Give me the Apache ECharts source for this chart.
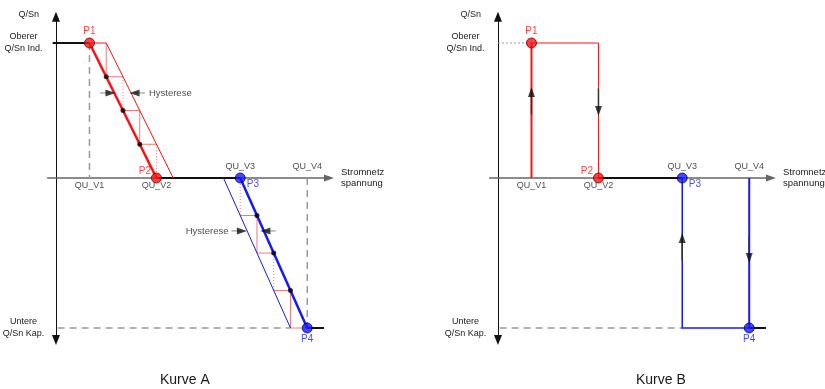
<!DOCTYPE html>
<html>
<head>
<meta charset="utf-8">
<script src="https://cdn.jsdelivr.net/npm/echarts@6/dist/echarts.min.js"></script>
<style>
  html, body { margin: 0; padding: 0; background: #fff; }
  #chart { width: 825px; height: 389px; }
</style>
</head>
<body>
<div id="chart"></div>
<script>
// Spannungsstützpunkte auf der x-Achse und Q/Sn-Grenzen auf der y-Achse
const vNames = ['QU_V1', 'QU_V2', 'QU_V3', 'QU_V4'];
const vValues = [2, 6, 11, 15];
const qUpper = 0.9;   // Oberer Q/Sn Ind.
const qLower = -1.0;  // Untere Q/Sn Kap.
const qLevelNames = ['Oberer\nQ/Sn Ind.', 'Untere\nQ/Sn Kap.'];
const hyst = 1;       // Hysteresebreite
const pointNames = ['P1', 'P2', 'P3', 'P4'];
const panelTitles = ['Kurve A', 'Kurve B'];

// Kurve A: Stufen auf den Rampen (schwarze Punkte)
const stepsInd = [[3, 0.675], [4, 0.45], [5, 0.225]];
const stepsKap = [[12, -0.25], [13, -0.5], [14, -0.75]];
// Hysterese-Pfeilspitzen
const hystArrowsInd = [[3.25, 0.567, 'right'], [4.69, 0.567, 'left']];
const hystArrowsKap = [[11.1, -0.353, 'right'], [12.5, -0.353, 'left']];
// Kurve B: Richtungspfeile auf den Sprüngen
const jumpArrows = [[2, 0.573, 'up'], [6, 0.447, 'down'], [11, -0.4, 'up'], [15, -0.533, 'down']];

const [V1, V2, V3, V4] = vValues;
const font = 'Liberation Sans, Arial, sans-serif';
const red = '#ff1010', blue = '#1818ff', pink = '#f07a7a', gray = '#9a9a9a', txt = '#1a1a1a';
const rotOf = { up: 0, down: 180, right: -90, left: 90 };

function seg(gi, paths, style, z) {
  return {
    type: 'lines', coordinateSystem: 'cartesian2d', xAxisIndex: gi, yAxisIndex: gi,
    polyline: true, silent: true, z: z || 2,
    lineStyle: Object.assign({ opacity: 1, curveness: 0 }, style),
    data: paths.map(p => ({ coords: p }))
  };
}

function scatter(gi, data, extra) {
  return Object.assign({
    type: 'scatter', xAxisIndex: gi, yAxisIndex: gi, silent: true, z: 6,
    data: data
  }, extra);
}

function arrowHeads(gi, arr) {
  return scatter(gi, arr.map(a => ({ value: [a[0], a[1]], symbolRotate: rotOf[a[2]] })), {
    symbol: 'triangle', symbolSize: [7, 10], itemStyle: { color: '#111' }
  });
}

function pointSeries(gi) {
  const pts = [[V1, qUpper], [V2, 0], [V3, 0], [V4, qLower]];
  const lbl = [
    { position: 'top', distance: 1 },
    { position: 'left', distance: 0, offset: [0, -7] },
    { position: 'right', distance: 1, offset: [0, 6] },
    { position: 'bottom', distance: 1 }
  ];
  return scatter(gi, pts.map((p, i) => {
    const c = i < 2 ? red : blue;
    return {
      value: p, name: pointNames[i],
      itemStyle: { color: c, borderColor: i < 2 ? '#600' : '#001050', borderWidth: 1 },
      label: Object.assign({ show: true, formatter: pointNames[i], color: c, fontSize: 10, fontFamily: font }, lbl[i])
    };
  }), { symbol: 'circle', symbolSize: 10, z: 8 });
}

function vLabelSeries(gi) {
  return scatter(gi, vValues.map((v, i) => ({
    value: [v, 0],
    label: { show: true, formatter: vNames[i], position: i < 2 ? 'bottom' : 'top', distance: i < 2 ? 3 : 7,
      fontSize: 9, color: txt, fontFamily: font }
  })), { symbolSize: 0, z: 7 });
}

// ---- Kurve A ----
const stairSolid = [], stairDot = [];
let qPrev = qUpper;
stepsInd.forEach(([x, q], i) => {
  (i % 2 === 0 ? stairSolid : stairDot).push([[x, qPrev], [x, q]]);
  stairSolid.push([[x, q], [x + hyst, q]]);
  qPrev = q;
});
(stepsInd.length % 2 === 0 ? stairSolid : stairDot).push([[V2, qPrev], [V2, 0]]);
qPrev = 0;
stepsKap.forEach(([x, q], i) => {
  (i % 2 === 0 ? stairDot : stairSolid).push([[x - hyst, qPrev], [x - hyst, q]]);
  stairSolid.push([[x - hyst, q], [x, q]]);
  qPrev = q;
});
stairSolid.push([[V4 - hyst, qPrev], [V4 - hyst, qLower], [V4, qLower]]);

const hystTails = [];
[hystArrowsInd, hystArrowsKap].forEach(arr => arr.forEach(([x, q, d]) => {
  hystTails.push(d === 'right' ? [[x - 0.62, q], [x, q]] : [[x, q], [x + 0.62, q]]);
}));

const seriesA = [
  seg(0, [[[V1, qUpper], [V1, 0]], [[V4, 0], [V4, qLower]], [[0.1, qLower], [V4 - hyst, qLower]]],
    { color: gray, width: 1.5, type: [7, 5] }, 1),
  seg(0, stairSolid, { color: pink, width: 1 }),
  seg(0, stairDot, { color: pink, width: 1, type: [1, 2] }),
  seg(0, [[[-0.2, qUpper], [V1, qUpper]], [[V2, 0], [V3, 0]], [[V4, qLower], [16, qLower]]],
    { color: '#111', width: 2 }, 3),
  seg(0, [[[V1, qUpper], [V1 + hyst, qUpper], [V2 + hyst, 0]]], { color: red, width: 1 }, 3),
  seg(0, [[[V1, qUpper], [V2, 0]]], { color: red, width: 2.5 }, 4),
  seg(0, [[[V3 - hyst, 0], [V4 - hyst, qLower]]], { color: blue, width: 1 }, 3),
  seg(0, [[[V3, 0], [V4, qLower]]], { color: blue, width: 2.5 }, 4),
  seg(0, hystTails, { color: '#888', width: 1 }),
  scatter(0, stepsInd.concat(stepsKap), { symbolSize: 5, itemStyle: { color: '#000' } }),
  arrowHeads(0, hystArrowsInd.concat(hystArrowsKap)),
  scatter(0, [
    { value: [hystArrowsInd[1][0] + 0.62, hystArrowsInd[1][1]],
      label: { show: true, formatter: 'Hysterese', position: 'right', distance: 4 } },
    { value: [hystArrowsKap[0][0] - 0.62, hystArrowsKap[0][1]],
      label: { show: true, formatter: 'Hysterese', position: 'left', distance: 3 } }
  ], { symbolSize: 0, label: { fontSize: 9.5, color: txt, fontFamily: font } }),
  pointSeries(0),
  vLabelSeries(0)
];

// ---- Kurve B ----
const jumpTails = jumpArrows.map(([x, q, d]) => d === 'up' ? [[x, q - 0.15], [x, q]] : [[x, q + 0.15], [x, q]]);
const seriesB = [
  seg(1, [[[0, qUpper], [V1, qUpper]]], { color: gray, width: 1, type: [2, 2] }, 1),
  seg(1, [[[0.1, qLower], [V3, qLower]]], { color: gray, width: 1.5, type: [7, 5] }, 1),
  seg(1, [[[V1, 0], [V1, qUpper]]], { color: red, width: 2 }, 3),
  seg(1, [[[V1, qUpper], [V2, qUpper], [V2, 0]]], { color: red, width: 1 }, 3),
  seg(1, [[[V2, 0], [V3, 0]], [[V4, qLower], [16, qLower]]], { color: '#111', width: 2 }, 3),
  seg(1, [[[V3, 0], [V3, qLower], [V4, qLower]]], { color: blue, width: 1.5 }, 3),
  seg(1, [[[V4, 0], [V4, qLower]]], { color: blue, width: 2 }, 4),
  seg(1, jumpTails, { color: '#333', width: 1.5 }, 5),
  arrowHeads(1, jumpArrows),
  pointSeries(1),
  vLabelSeries(1)
];

const gridLeft = [47.6, 489.6];
const chart = echarts.init(document.getElementById('chart'));
chart.setOption({
  animation: false,
  backgroundColor: '#fff',
  title: panelTitles.map((t, i) => ({
    text: t, left: [160, 636][i], top: 373, padding: 0,
    textStyle: { fontSize: 14, fontWeight: 'normal', color: txt, fontFamily: font }
  })),
  grid: gridLeft.map(l => ({
    left: l, top: 16.75, width: 281.4, height: 323.25, containLabel: false, outerBoundsMode: 'none'
  })),
  xAxis: [0, 1].map(i => ({
    type: 'value', gridIndex: i, min: -0.5, max: 16.3,
    splitLine: { show: false }, axisTick: { show: false }, axisLabel: { show: false },
    axisLine: { onZero: true, symbol: ['none', 'triangle'], symbolSize: [7, 10], lineStyle: { color: '#666', width: 1.5 } },
    name: 'Stromnetz\nspannung', nameLocation: 'end', nameGap: 12,
    nameTextStyle: { fontFamily: font, fontSize: 9.5, color: txt, align: 'left', verticalAlign: 'middle', lineHeight: 11 }
  })),
  yAxis: [0, 1].map(i => ({
    type: 'value', gridIndex: i, min: -1.08, max: 1.075,
    splitLine: { show: false }, axisTick: { show: false },
    axisLine: { onZero: true, symbol: ['triangle', 'triangle'], symbolSize: [8, 10], lineStyle: { color: '#111', width: 1 } },
    axisLabel: {
      customValues: [qUpper, qLower], formatter: v => v > 0 ? qLevelNames[0] : qLevelNames[1],
      align: 'center', margin: 24, fontSize: 9, lineHeight: 12, color: txt, fontFamily: font
    },
    name: 'Q/Sn', nameLocation: 'end', nameGap: 2,
    nameTextStyle: { fontFamily: font, fontSize: 9, color: txt, align: 'right', verticalAlign: 'middle', padding: [0, 17, 0, 0] }
  })),
  series: seriesA.concat(seriesB)
});
</script>
</body>
</html>
